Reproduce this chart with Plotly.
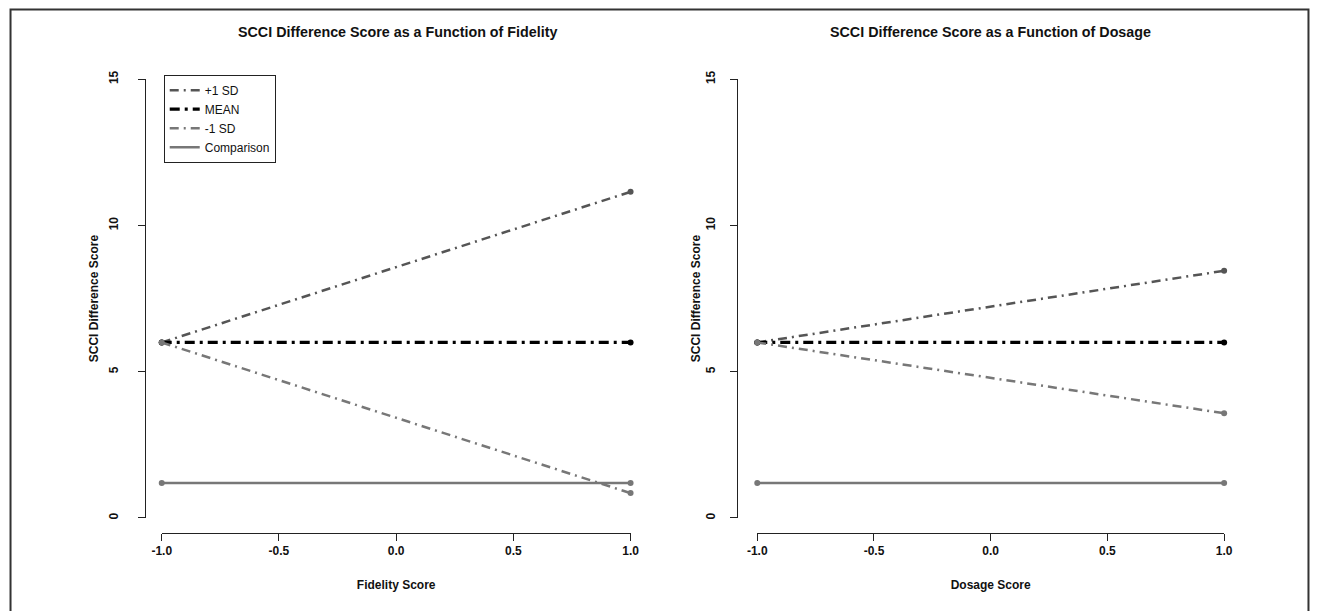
import plotly.graph_objects as go

# ---- data ----
x_vals = [-1.0, 1.0]
fid_plus1 = [6.0, 11.15]
fid_mean = [6.0, 6.0]
fid_minus1 = [6.0, 0.85]
fid_comp = [1.2, 1.2]

dos_plus1 = [6.0, 8.45]
dos_mean = [6.0, 6.0]
dos_minus1 = [6.0, 3.58]
dos_comp = [1.2, 1.2]

series_names = ["+1 SD", "MEAN", "-1 SD", "Comparison"]
x_ticks = [-1.0, -0.5, 0.0, 0.5, 1.0]
x_ticktext = ["-1.0", "-0.5", "0.0", "0.5", "1.0"]
y_ticks = [0, 5, 10, 15]
titles = ["SCCI Difference Score as a Function of Fidelity",
          "SCCI Difference Score as a Function of Dosage"]
x_titles = ["Fidelity Score", "Dosage Score"]
y_title = "SCCI Difference Score"

styles = [
    dict(color="#555555", width=2.5, dash="9px,5px,2px,5px"),
    dict(color="#000000", width=3.2, dash="10px,5px,3px,5px"),
    dict(color="#777777", width=2.5, dash="9px,5px,2px,5px"),
    dict(color="#777777", width=2.5, dash="solid"),
]

FONT = "Liberation Sans, Arial, sans-serif"
W, H = 1318, 611
# observed capture: picture = 7.9 + 0.988 * page ; place items via inverse
SHIFT, SCALE = 7.9, 0.988

fig = go.Figure()

panels = [
    ("x", "y", [fid_plus1, fid_mean, fid_minus1, fid_comp]),
    ("x2", "y2", [dos_plus1, dos_mean, dos_minus1, dos_comp]),
]
for xa, ya, ser in panels:
    for name, vals, st in zip(series_names, ser, styles):
        fig.add_trace(go.Scatter(
            x=x_vals, y=vals, mode="lines+markers", name=name,
            xaxis=xa, yaxis=ya, showlegend=False, cliponaxis=False,
            line=dict(color=st["color"], width=st["width"], dash=st["dash"]),
            marker=dict(color=st["color"], size=6),
        ))

# legend entries (line samples only, as in the reference key)
for name, st in zip(series_names, styles):
    fig.add_trace(go.Scatter(
        x=[None], y=[None], mode="lines", name=name, showlegend=True,
        xaxis="x", yaxis="y",
        line=dict(color=st["color"], width=st["width"], dash=st["dash"]),
    ))


def page(p):
    return (p - SHIFT) / SCALE


def px_x(p):
    return page(p) / W


def px_y(p):
    return 1 - page(p) / H


tickfont = dict(family=FONT, size=12, color="#111111", weight="bold")
titlefont = dict(family=FONT, size=12, color="#111111", weight="bold")

xdoms = [(160, 630), (757, 1225)]
yaxis_pos = [143, 737]
ytick_standoff = [15, 10]
ytitle_standoff = [4, 0]
ydom = [px_y(520), px_y(78.5)]
xaxis_line_y = px_y(535)

for i in range(2):
    sfx = "" if i == 0 else str(i + 1)
    fig.layout["xaxis" + sfx] = dict(
        domain=[px_x(xdoms[i][0]), px_x(xdoms[i][1])],
        range=[-1, 1], anchor="free", position=xaxis_line_y,
        tickvals=x_ticks, ticktext=x_ticktext,
        showline=True, linecolor="#222222", linewidth=1.2,
        ticks="outside", ticklen=7, tickcolor="#222222", tickwidth=1.2,
        showgrid=False, zeroline=False, tickfont=tickfont,
        ticklabelstandoff=0,
        title=dict(text=x_titles[i], font=titlefont, standoff=23),
    )
    fig.layout["yaxis" + sfx] = dict(
        domain=ydom, range=[0, 15], anchor="free",
        position=px_x(yaxis_pos[i]),
        tickvals=y_ticks, tickangle=-90,
        showline=True, linecolor="#222222", linewidth=1.2,
        ticks="outside", ticklen=7, tickcolor="#222222", tickwidth=1.2,
        showgrid=False, zeroline=False, tickfont=tickfont,
        ticklabelstandoff=ytick_standoff[i],
        title=dict(text=y_title, font=titlefont, standoff=ytitle_standoff[i]),
    )

annotations = []
for i, cx in enumerate([396, 991]):
    annotations.append(dict(
        text=titles[i], x=px_x(cx), y=px_y(31), xref="paper", yref="paper",
        showarrow=False, xanchor="center", yanchor="middle",
        font=dict(family=FONT, size=14.3, color="#111111", weight="bold"),
    ))

fig.update_layout(
    width=W, height=H,
    margin=dict(l=0, r=0, t=0, b=0),
    paper_bgcolor="white", plot_bgcolor="white",
    annotations=annotations,
    legend=dict(
        x=px_x(162), y=px_y(74), xanchor="left", yanchor="top",
        bordercolor="#222222", borderwidth=1, bgcolor="white",
        font=dict(family=FONT, size=12, color="#111111"),
        tracegroupgap=0, itemwidth=30,
    ),
    shapes=[dict(
        type="rect", xref="paper", yref="paper",
        x0=0.0004, x1=0.9996, y0=-0.05, y1=0.9992,
        line=dict(color="#333333", width=2), fillcolor="rgba(0,0,0,0)",
    )],
)

fig.write_html(
    "out.html",
    config={"displayModeBar": False},
    post_script="document.body.style.margin='0';document.body.style.overflow='hidden';",
)
